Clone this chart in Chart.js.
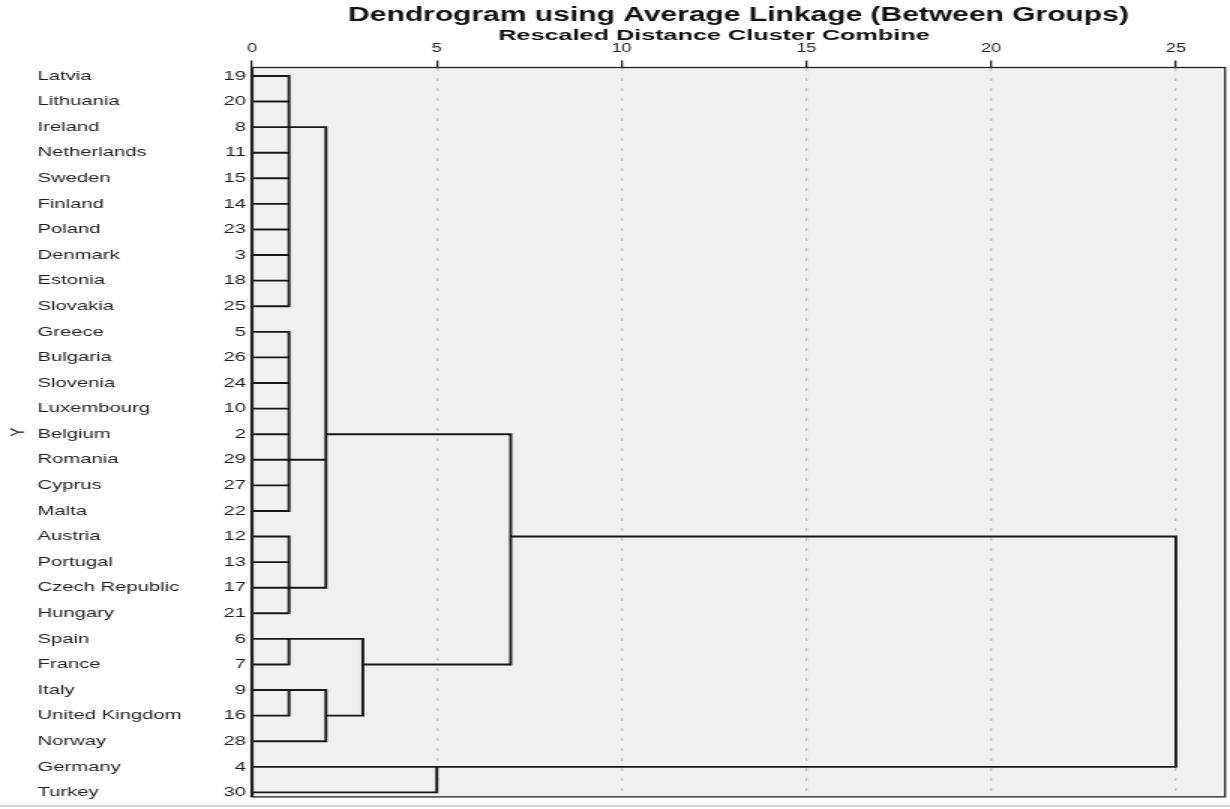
<!DOCTYPE html>
<html>
<head>
<meta charset="utf-8">
<title>Dendrogram using Average Linkage (Between Groups)</title>
<script src="https://cdn.jsdelivr.net/npm/chart.js@4.4.1/dist/chart.umd.min.js"></script>
<style>
  html, body { margin: 0; padding: 0; background: #fff; width: 1230px; height: 809px; overflow: hidden; }
  /* the chart is laid out on a narrower canvas and widened, giving the wide lettering */
  #wrap { position: absolute; left: 0; top: 0; width: 820px; height: 809px; transform: scaleX(1.5); transform-origin: 0 0; }
  #rule { position: absolute; left: 0; top: 805px; width: 1230px; height: 0; border-top: 2px solid #d6d6d6; }
</style>
</head>
<body>
<div id="wrap"><canvas id="dendro"></canvas></div>
<div id="rule"></div>
<script>
// leaves, top to bottom
const countries = ['Latvia', 'Lithuania', 'Ireland', 'Netherlands', 'Sweden', 'Finland', 'Poland', 'Denmark',
  'Estonia', 'Slovakia', 'Greece', 'Bulgaria', 'Slovenia', 'Luxembourg', 'Belgium', 'Romania', 'Cyprus', 'Malta',
  'Austria', 'Portugal', 'Czech Republic', 'Hungary', 'Spain', 'France', 'Italy', 'United Kingdom', 'Norway',
  'Germany', 'Turkey'];
const caseNumbers = [19, 20, 8, 11, 15, 14, 23, 3, 18, 25, 5, 26, 24, 10, 2, 29, 27, 22, 12, 13, 17, 21, 6, 7, 9, 16, 28, 4, 30];
const distanceTicks = [0, 5, 10, 15, 20, 25];

// agglomeration steps: branches joined (leaf row numbers, or 's<k>' for an earlier step),
// rescaled distance of the join, and the row the joined branch continues from
const stepBranches = [
  [0, 1, 2, 3, 4, 5, 6, 7, 8, 9],
  [10, 11, 12, 13, 14, 15, 16, 17],
  [18, 19, 20, 21],
  ['s0', 's1', 's2'],
  [22, 23],
  [24, 25],
  ['s5', 26],
  ['s4', 's6'],
  ['s3', 's7'],
  [27, 28],
  ['s8', 's9']
];
const stepDistance = [1, 1, 1, 2, 1, 1, 2, 3, 7, 5, 25];
const stepRow = [2, 15, 20, 14, 22, 24, 25, 23, 18, 27, null];

const FONT = '"Liberation Sans", Arial, sans-serif';
const INK = '#161616';
const ROW_MIN = -0.33;
const ROW_MAX = 28.175;

function branchEnd(b) {
  if (typeof b === 'number') return { row: b, level: 0 };
  const k = Number(b.slice(1));
  return { row: stepRow[k], level: stepDistance[k] };
}

// one polyline per bracket, plus plain stubs for branches in the middle of a bracket
const segments = [];
stepBranches.forEach((branches, k) => {
  const lv = stepDistance[k];
  const ends = branches.map(branchEnd).sort((a, b) => a.row - b.row);
  const first = ends[0];
  const last = ends[ends.length - 1];
  segments.push([
    { x: first.level, y: first.row },
    { x: lv, y: first.row },
    { x: lv, y: last.row },
    { x: last.level, y: last.row }
  ]);
  ends.slice(1, -1).forEach(e => segments.push([{ x: e.level, y: e.row }, { x: lv, y: e.row }]));
});

const datasets = segments.map(seg => ({
  data: seg,
  borderColor: INK,
  borderWidth: 1.9,
  pointRadius: 0,
  tension: 0,
  fill: false,
  borderJoinStyle: 'miter',
  clip: 3
}));

const rowTicks = countries.map((_, i) => ({ value: i }));

const plotFrame = {
  id: 'plotFrame',
  beforeDraw(chart) {
    const { ctx, chartArea: a } = chart;
    ctx.save();
    ctx.fillStyle = '#f0f0f0';
    ctx.fillRect(a.left, a.top, a.right - a.left, a.bottom - a.top);
    ctx.restore();
  },
  afterDatasetsDraw(chart) {
    const { ctx, chartArea: a } = chart;
    ctx.save();
    ctx.strokeStyle = '#222';
    ctx.lineWidth = 1.3;
    ctx.strokeRect(a.left, a.top, a.right - a.left, a.bottom - a.top);
    ctx.lineWidth = 2.2;
    ctx.beginPath();
    ctx.moveTo(a.left, a.top);
    ctx.lineTo(a.left, a.bottom);
    ctx.stroke();
    ctx.restore();
  },
  afterDraw(chart) {
    // axis caption, centred over the 0–25 tick span
    const { ctx } = chart;
    const xs = chart.scales.x;
    const cx = (xs.getPixelForValue(distanceTicks[0]) + xs.getPixelForValue(distanceTicks[distanceTicks.length - 1])) / 2;
    ctx.save();
    ctx.translate(cx, 36.5);
    ctx.scale(1.2, 1);
    ctx.font = 'bold 14px ' + FONT;
    ctx.fillStyle = '#111';
    ctx.textAlign = 'center';
    ctx.textBaseline = 'middle';
    ctx.fillText('Rescaled Distance Cluster Combine', 0, 0);
    ctx.restore();
  }
};

new Chart(document.getElementById('dendro'), {
  type: 'line',
  data: { datasets },
  plugins: [plotFrame],
  options: {
    responsive: true,
    maintainAspectRatio: false,
    animation: false,
    events: [],
    layout: { padding: { left: 0, right: 3.3, top: 0, bottom: 10 } },
    plugins: {
      legend: { display: false },
      tooltip: { enabled: false },
      title: {
        display: true,
        text: 'Dendrogram using Average Linkage (Between Groups)',
        fullSize: false,
        color: '#111',
        font: { family: FONT, size: 20, weight: 'bold' },
        padding: { top: 3, bottom: 0 }
      }
    },
    scales: {
      x: {
        type: 'linear',
        position: 'top',
        min: 0,
        max: 26.33,
        afterBuildTicks(scale) { scale.ticks = distanceTicks.map(v => ({ value: v })); },
        afterFit(scale) { scale.height = 40.5; },
        ticks: {
          autoSkip: false,
          maxRotation: 0,
          padding: 5,
          color: '#222',
          font: { family: FONT, size: 12 }
        },
        grid: {
          drawOnChartArea: true,
          color: ctx => (ctx.tick && ctx.tick.value === 0 ? 'rgba(0,0,0,0)' : '#c6c6c6'),
          lineWidth: 1.3,
          tickLength: 7,
          tickColor: '#222',
          tickWidth: 1.3
        },
        border: { display: false, dash: [3, 7] }
      },
      y: {
        type: 'linear',
        position: 'left',
        reverse: true,
        min: ROW_MIN,
        max: ROW_MAX,
        weight: 0,
        afterBuildTicks(scale) { scale.ticks = rowTicks.map(t => ({ value: t.value })); },
        afterFit(scale) { scale.width = 23; },
        ticks: {
          autoSkip: false,
          padding: 4,
          color: '#1e1e1e',
          font: { family: FONT, size: 13.5 },
          callback: v => caseNumbers[v]
        },
        grid: { display: false, drawTicks: false },
        border: { display: false }
      },
      yNames: {
        type: 'linear',
        position: 'left',
        reverse: true,
        min: ROW_MIN,
        max: ROW_MAX,
        weight: 1,
        afterBuildTicks(scale) { scale.ticks = rowTicks.map(t => ({ value: t.value })); },
        afterFit(scale) { scale.width = 120; },
        ticks: {
          autoSkip: false,
          crossAlign: 'far',
          padding: 0,
          color: '#1e1e1e',
          font: { family: FONT, size: 13.5 },
          callback: v => countries[v]
        },
        grid: { display: false, drawTicks: false },
        border: { display: false }
      },
      yTitle: {
        type: 'linear',
        position: 'left',
        min: 0,
        max: 1,
        weight: 2,
        afterFit(scale) { scale.width = 25; },
        ticks: { display: false },
        grid: { display: false, drawTicks: false },
        border: { display: false },
        title: {
          display: true,
          text: 'Y',
          color: '#222',
          font: { family: FONT, size: 13 },
          padding: { top: 5, bottom: 0 }
        }
      }
    }
  }
});
</script>
</body>
</html>
